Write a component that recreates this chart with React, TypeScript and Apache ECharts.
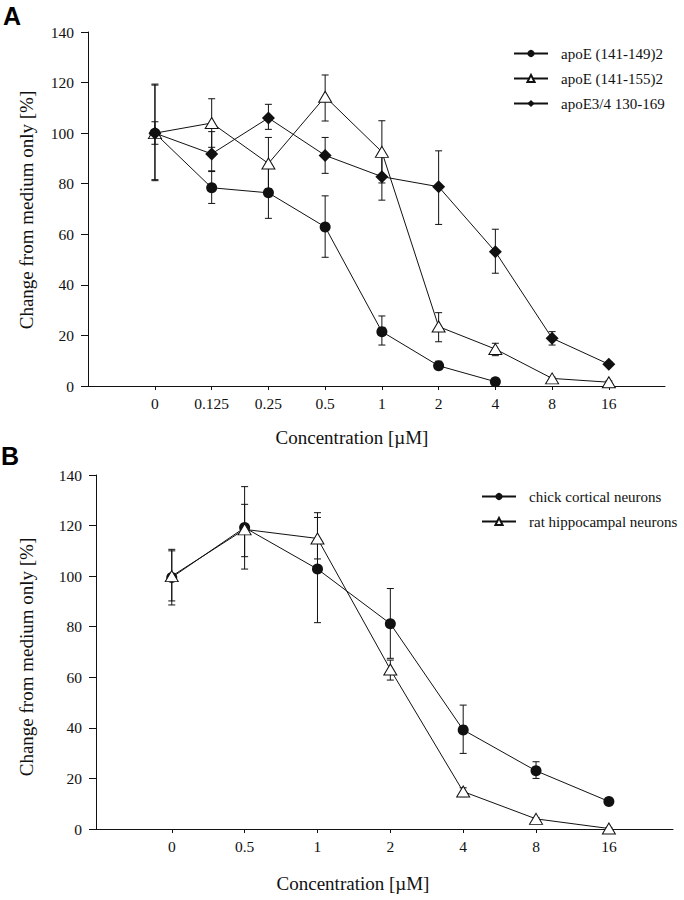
import React, { useEffect, useRef } from 'react';
import * as echarts from 'echarts';

// ---------- Data ----------
const catsA = ['0', '0.125', '0.25', '0.5', '1', '2', '4', '8', '16'];
const namesA = ['apoE (141-149)2', 'apoE (141-155)2', 'apoE3/4 130-169'];
const a1Values = [100, 78.4, 76.4, 62.9, 21.5, 8.0, 1.7];
const a1Low = [95.6, 72.2, 66.3, 50.9, 16.2, 6.5, 1.0];
const a1High = [104.5, 85.1, 86.5, 75.2, 27.7, 9.8, 2.5];
const a2Values = [100, 104, 88, 114.4, 92.6, 23.5, 14.6, 3.0, 1.5];
const a2Low = [81.6, 94.4, 78, 104.8, 80.3, 17.5, 12.0, 2.5, 1.0];
const a2High = [119.4, 113.6, 98.3, 123, 104.9, 29.0, 16.9, 3.5, 2.0];
const a3Values = [100, 91.8, 106, 91.2, 82.8, 78.8, 53.1, 18.9, 8.6];
const a3Low = [81.2, 84.8, 101.5, 84.1, 73.5, 63.9, 44.6, 16.2, 8.0];
const a3High = [119.0, 100.6, 111.4, 98.3, 92.0, 93.0, 62.0, 21.5, 9.5];

const catsB = ['0', '0.5', '1', '2', '4', '8', '16'];
const namesB = ['chick cortical neurons', 'rat hippocampal neurons'];
const b1Values = [99.5, 119.2, 102.8, 81.2, 39.2, 23.0, 10.9];
const b1Low = [88.6, 102.8, 81.6, 67.5, 29.9, 20.0, 10.0];
const b1High = [110.6, 135.4, 125.1, 95.1, 49.0, 26.6, 12.0];
const b2Values = [100, 118.5, 114.9, 63.1, 14.8, 4.0, 0.2];
const b2Low = [90.2, 107.7, 106.8, 58.9, 12.8, 3.5, 0.0];
const b2High = [110.0, 128.4, 123.2, 66.8, 16.3, 4.5, 0.5];

const yTicks = [0, 20, 40, 60, 80, 100, 120, 140];

// ---------- Helpers ----------
const SERIF = "'Liberation Serif', 'Times New Roman', serif";
const BLACK = '#111';

const pts = (vals: number[]) => vals.map((v, i) => [i, v]);
const errs = (lo: number[], hi: number[]) => lo.map((l, i) => [i, l, hi[i]]);

const errorRender = (params: any, api: any) => {
  const x = api.value(0);
  const pLo = api.coord([x, api.value(1)]);
  const pHi = api.coord([x, api.value(2)]);
  const w = 3.5;
  const style = { stroke: BLACK, lineWidth: 1 };
  return {
    type: 'group',
    children: [
      { type: 'line', shape: { x1: pLo[0], y1: pLo[1], x2: pHi[0], y2: pHi[1] }, style },
      { type: 'line', shape: { x1: pLo[0] - w, y1: pLo[1], x2: pLo[0] + w, y2: pLo[1] }, style },
      { type: 'line', shape: { x1: pHi[0] - w, y1: pHi[1], x2: pHi[0] + w, y2: pHi[1] }, style },
    ],
  };
};

const errSeries = (idx: number, lo: number[], hi: number[]) => ({
  type: 'custom',
  xAxisIndex: idx,
  yAxisIndex: idx,
  renderItem: errorRender,
  data: errs(lo, hi),
  encode: { x: 0, y: [1, 2] },
  z: 1,
  silent: true,
});

const symbolStyles: Record<string, any> = {
  circle: { symbol: 'circle', symbolSize: 11, itemStyle: { color: BLACK } },
  triangle: {
    symbol: 'triangle',
    symbolSize: [13, 11],
    itemStyle: { color: '#fff', borderColor: BLACK, borderWidth: 1 },
  },
  diamond: { symbol: 'diamond', symbolSize: [13, 13], itemStyle: { color: BLACK } },
};

const lineSeries = (idx: number, name: string, vals: number[], kind: string) => ({
  type: 'line',
  name,
  xAxisIndex: idx,
  yAxisIndex: idx,
  data: pts(vals),
  showSymbol: true,
  lineStyle: { color: BLACK, width: 1 },
  ...symbolStyles[kind],
  z: 3,
});

const xAxis = (idx: number, cats: string[], min: number, max: number) => {
  const ticks = cats.map((_, i) => i);
  return {
    type: 'value',
    gridIndex: idx,
    min,
    max,
    axisLine: { show: true, onZero: false, lineStyle: { color: BLACK, width: 1 } },
    axisTick: { show: true, customValues: ticks, length: 4, lineStyle: { color: BLACK } },
    axisLabel: {
      customValues: ticks,
      formatter: (v: number) => cats[Math.round(v)],
      margin: 9,
      fontFamily: SERIF,
      fontSize: 15.5,
      color: BLACK,
    },
    splitLine: { show: false },
  };
};

const yAxis = (idx: number) => ({
  type: 'value',
  gridIndex: idx,
  min: 0,
  max: 140,
  interval: 20,
  axisLine: { show: true, onZero: false, lineStyle: { color: BLACK, width: 1 } },
  axisTick: { show: true, length: 7, lineStyle: { color: BLACK } },
  axisLabel: {
    customValues: yTicks,
    margin: 14,
    fontFamily: SERIF,
    fontSize: 15.5,
    color: BLACK,
  },
  splitLine: { show: false },
});

const legendBase = {
  orient: 'vertical',
  itemWidth: 34,
  itemHeight: 9,
  itemGap: 10,
  textStyle: { fontFamily: SERIF, fontSize: 15, color: BLACK, padding: [0, 0, 0, 8] },
  selectedMode: false,
};

const option: any = {
  animation: false,
  backgroundColor: '#fff',
  grid: [
    { left: 88, top: 32, right: 19, bottom: 514 },
    { left: 96, top: 475, right: 11, bottom: 71 },
  ],
  xAxis: [xAxis(0, catsA, -1.18, 8.99), xAxis(1, catsB, -1.04, 6.88)],
  yAxis: [yAxis(0), yAxis(1)],
  legend: [
    { ...legendBase, data: namesA, left: 508, top: 41 },
    { ...legendBase, data: namesB, left: 476, top: 484 },
  ],
  graphic: [
    {
      type: 'text',
      left: 3,
      top: 3,
      style: { text: 'A', font: 'bold 25px "Liberation Sans", Arial, sans-serif', fill: '#000' },
    },
    {
      type: 'text',
      left: 1,
      top: 443,
      style: { text: 'B', font: 'bold 25px "Liberation Sans", Arial, sans-serif', fill: '#000' },
    },
    {
      type: 'text',
      x: 26,
      y: 210,
      rotation: Math.PI / 2,
      style: {
        text: 'Change from medium only [%]',
        font: `19px ${SERIF}`,
        fill: BLACK,
        align: 'center',
        verticalAlign: 'middle',
      },
    },
    {
      type: 'text',
      x: 26,
      y: 657,
      rotation: Math.PI / 2,
      style: {
        text: 'Change from medium only [%]',
        font: `19px ${SERIF}`,
        fill: BLACK,
        align: 'center',
        verticalAlign: 'middle',
      },
    },
    {
      type: 'text',
      x: 352,
      y: 437,
      style: {
        text: 'Concentration [µM]',
        font: `19px ${SERIF}`,
        fill: BLACK,
        align: 'center',
        verticalAlign: 'middle',
      },
    },
    {
      type: 'text',
      x: 353,
      y: 883,
      style: {
        text: 'Concentration [µM]',
        font: `19px ${SERIF}`,
        fill: BLACK,
        align: 'center',
        verticalAlign: 'middle',
      },
    },
  ],
  series: [
    errSeries(0, a1Low, a1High),
    errSeries(0, a2Low, a2High),
    errSeries(0, a3Low, a3High),
    lineSeries(0, namesA[0], a1Values, 'circle'),
    lineSeries(0, namesA[1], a2Values, 'triangle'),
    lineSeries(0, namesA[2], a3Values, 'diamond'),
    errSeries(1, b1Low, b1High),
    errSeries(1, b2Low, b2High),
    lineSeries(1, namesB[0], b1Values, 'circle'),
    lineSeries(1, namesB[1], b2Values, 'triangle'),
  ],
};

export default function App() {
  const ref = useRef<HTMLDivElement>(null);
  useEffect(() => {
    document.body.style.margin = '0';
    const chart = echarts.init(ref.current as HTMLDivElement, null, { renderer: 'svg' });
    chart.setOption(option);
    return () => chart.dispose();
  }, []);
  return <div ref={ref} style={{ width: 684, height: 900, background: '#fff' }} />;
}
